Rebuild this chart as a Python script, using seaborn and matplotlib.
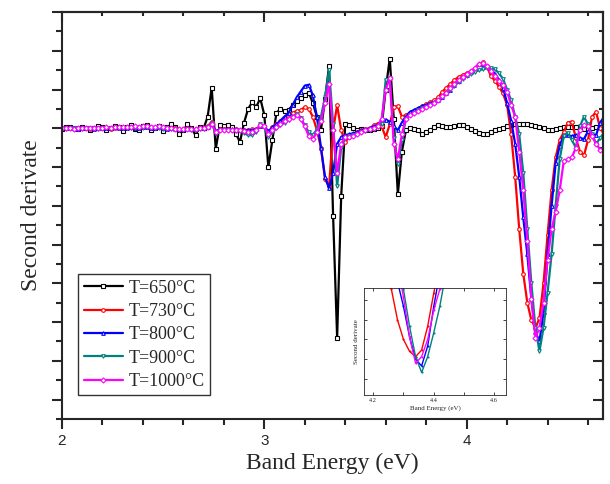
import numpy as np
import pandas as pd
import matplotlib
matplotlib.use("Agg")
import matplotlib.pyplot as plt
from matplotlib.ticker import MultipleLocator, NullFormatter
import seaborn as sns

sns.set_style("white")
plt.rcParams["font.family"] = ["Liberation Serif", "DejaVu Serif"]

# energy grid (eV), 0.02 eV steps
energy = np.round(np.linspace(2.0, 4.68, 135), 2)

t650 = [-0.05, 0.05, 0.08, 0.0, -0.05, 0.05, 0.02, -0.08, 0.0, 0.1,
        0.05, -0.1, 0.0, 0.12, 0.05, -0.12, 0.05, 0.15, -0.05, -0.1,
        0.1, 0.15, -0.1, 0.0, 0.12, -0.15, 0.05, 0.2, 0.05, -0.3,
        -0.1, 0.2, 0.0, -0.35, 0.05, 0.0, 0.6, 2.1, -1.05, 0.15,
        0.1, 0.15, 0.05, -0.3, -0.7, 0.3, 1.0, 1.35, 1.1, 1.55,
        0.7, -2.0, -0.6, 0.8, 1.0, 0.9, 0.95, 1.2, 1.4, 1.55,
        1.7, 1.85, 1.3, 0.6, -0.1, 1.5, 3.2, -4.5, -10.8, -3.5,
        0.2, 0.15, 0.0, -0.1, -0.05, -0.1, -0.1, -0.05, 0.0, 0.1,
        2.0, 3.6, 0.5, -3.4, -1.2, -0.1, 0.0, -0.05, -0.1, -0.3,
        -0.2, -0.1, 0.05, 0.15, 0.1, 0.05, 0.05, 0.1, 0.15, 0.15,
        0.05, -0.05, -0.15, -0.25, -0.3, -0.3, -0.2, -0.1, -0.05, 0.0,
        0.1, 0.15, 0.2, 0.25, 0.25, 0.2, 0.15, 0.1, 0.05, 0.0,
        -0.1, -0.1, -0.05, 0.0, 0.05, 0.05, 0.05, 0.05, 0.0, -0.05,
        -0.05, 0.0, 0.05, 0.05, 0.05]

t730 = [0.0, 0.02, 0.0, -0.03, 0.0, 0.03, 0.0, -0.02, 0.0, 0.03,
        0.02, 0.0, -0.03, 0.03, 0.05, 0.02, 0.0, 0.05, 0.02, 0.0,
        0.05, 0.08, 0.05, 0.02, 0.05, 0.0, -0.05, 0.0, 0.0, -0.05,
        -0.05, 0.0, -0.05, -0.05, 0.0, 0.0, 0.1, 0.35, -0.2, -0.05,
        -0.05, -0.05, -0.1, -0.05, -0.1, -0.1, -0.1, -0.05, -0.05, 0.15,
        0.1, -0.2, 0.05, 0.2, 0.4, 0.6, 0.75, 0.8, 0.9, 0.95,
        1.1, 1.0, 0.6, -0.1, -1.0, -2.6, -3.0, -0.1, 1.2, -0.1,
        -0.7, -0.45, -0.3, -0.2, -0.1, -0.05, 0.0, 0.15, 0.25, 0.1,
        -0.45, 0.2, 1.1, 1.15, 0.6, 0.7, 0.8, 0.9, 1.0, 1.15,
        1.25, 1.35, 1.45, 1.6, 1.9, 2.1, 2.3, 2.5, 2.65, 2.75,
        2.85, 2.95, 3.05, 3.3, 3.4, 3.2, 2.7, 2.45, 2.15, 1.8,
        1.2, -0.3, -2.5, -5.2, -7.5, -9.0, -9.9, -10.3, -9.8, -8.0,
        -5.5, -3.2, -1.5, -0.6, -0.2, 0.3, 0.35, -0.5, -1.2, -1.4,
        -0.6, 0.6, 0.85, 0.0, -0.3]

t800 = [0.0, 0.0, 0.02, 0.0, -0.02, 0.0, 0.03, 0.0, -0.02, 0.02,
        0.03, 0.0, 0.02, 0.05, 0.03, 0.0, 0.03, 0.05, 0.03, 0.02,
        0.05, 0.05, 0.03, 0.03, 0.05, 0.0, -0.03, 0.0, -0.02, -0.05,
        -0.05, 0.0, -0.05, -0.05, 0.0, 0.0, 0.05, 0.25, -0.15, -0.05,
        -0.05, -0.05, -0.05, -0.05, -0.1, -0.1, -0.1, -0.1, -0.05, 0.1,
        0.1, -0.15, 0.05, 0.2, 0.4, 0.6, 0.8, 1.2, 1.6, 1.9,
        2.2, 2.25, 1.7, 0.6, -1.0, -2.5, -3.1, -2.3, -0.8, -0.45,
        -0.35, -0.3, -0.25, -0.2, -0.1, -0.05, 0.0, 0.1, 0.15, 0.45,
        0.45, 0.35, 0.1, -0.1, 0.3, 0.6, 0.85, 0.95, 1.05, 1.15,
        1.2, 1.3, 1.35, 1.45, 1.6, 1.8, 2.0, 2.25, 2.45, 2.65,
        2.75, 2.9, 3.1, 3.3, 3.3, 3.2, 3.05, 2.8, 2.5, 2.1,
        1.3, 0.4, -0.8, -2.5, -4.6, -6.5, -8.8, -10.5, -11.0, -9.5,
        -6.5, -4.0, -1.8, -0.9, -0.35, -0.35, -0.4, -0.35, -0.5, -0.55,
        -0.15, -0.3, -0.35, 0.3, 0.6]

t900 = [0.0, -0.02, 0.0, 0.02, 0.0, -0.03, 0.0, 0.02, 0.0, -0.02,
        0.0, 0.02, 0.0, 0.03, 0.02, 0.0, 0.02, 0.04, 0.02, 0.0,
        0.03, 0.05, 0.03, 0.0, 0.02, -0.02, -0.05, -0.03, -0.05, -0.08,
        -0.08, -0.05, -0.1, -0.1, -0.05, -0.05, 0.05, 0.3, -0.3, -0.1,
        -0.1, -0.1, -0.1, -0.15, -0.15, -0.25, -0.35, -0.35, -0.2, 0.2,
        0.05, -0.45, -0.2, 0.0, 0.15, 0.3, 0.45, 0.6, 0.75, 0.55,
        0.15, -0.2, -0.35, -0.05, 0.6, 1.6, 3.0, 0.25, -3.0, -1.0,
        -0.5, -0.4, -0.35, -0.3, -0.2, -0.15, -0.1, -0.05, 0.1, 0.25,
        2.5, 2.6, -0.5, -1.85, -0.6, 0.5, 0.7, 0.8, 0.95, 1.05,
        1.1, 1.2, 1.3, 1.45, 1.6, 1.8, 2.0, 2.2, 2.4, 2.55,
        2.7, 2.8, 2.9, 3.0, 3.05, 3.1, 3.1, 3.05, 2.85, 2.55,
        2.0, 1.45, 0.6, -0.3, -2.3, -5.2, -8.0, -10.3, -11.5, -10.3,
        -8.5, -6.5, -4.0, -1.6, -0.4, -0.25, -0.6, -1.0, 0.1, 0.6,
        0.2, -0.3, -0.8, -0.5, -0.2]

t1000 = [0.0, 0.02, 0.0, -0.02, 0.0, 0.02, 0.03, 0.0, 0.02, 0.03,
         0.03, 0.05, 0.03, 0.05, 0.08, 0.05, 0.05, 0.08, 0.1, 0.08,
         0.1, 0.1, 0.08, 0.08, 0.1, 0.05, 0.0, 0.0, -0.02, -0.05,
         -0.05, -0.02, -0.05, -0.05, 0.0, 0.0, 0.05, 0.25, -0.2, -0.1,
         -0.1, -0.1, -0.1, -0.1, -0.1, -0.15, -0.2, -0.2, -0.1, 0.15,
         0.1, -0.3, -0.1, 0.05, 0.2, 0.4, 0.5, 0.6, 0.7, 0.5,
         0.1, -0.4, -0.55, -0.2, 0.4, 1.3, 2.3, -0.1, -2.3, -0.8,
         -0.45, -0.45, -0.4, -0.3, -0.2, -0.1, -0.05, 0.0, 0.1, 0.5,
         2.0, 2.6, -0.8, -1.6, -0.3, 0.5, 0.7, 0.8, 0.9, 1.0,
         1.1, 1.2, 1.3, 1.45, 1.65, 1.85, 2.1, 2.3, 2.5, 2.65,
         2.8, 2.95, 3.1, 3.3, 3.35, 3.2, 2.95, 2.7, 2.45, 2.25,
         1.9, 1.2, 0.6, -1.2, -3.2, -5.8, -8.8, -10.8, -10.3, -9.0,
         -6.8, -5.2, -4.3, -3.2, -1.7, -1.6, -1.5, -1.0, -0.1, 0.15,
         0.1, -0.4, -0.8, -1.1, -1.0]

labels = ["T=650°C", "T=730°C", "T=800°C", "T=900°C", "T=1000°C"]
series = [t650, t730, t800, t900, t1000]
colors = ["black", "#ff0000", "#0000ff", "#008080", "#ff00ff"]
markers = ["s", "o", "^", "v", "D"]

fig = plt.figure(figsize=(6.1, 4.84), dpi=100)
ax = fig.add_axes([0.1016, 0.1343, 0.8869, 0.8407])

for lab, vals, col, mk in zip(labels, series, colors, markers):
    df = pd.DataFrame({"energy": energy, "d2": vals})
    sns.lineplot(data=df, x="energy", y="d2", ax=ax, color=col, lw=1.6,
                 marker=mk, markersize=2.6, markerfacecolor="white",
                 markeredgecolor=col, markeredgewidth=0.8, label=lab)

ax.set_xlim(2.0, 4.674)
ax.set_ylim(-15, 6)
ax.xaxis.set_major_locator(MultipleLocator(1))
ax.xaxis.set_minor_locator(MultipleLocator(0.2))
ax.yaxis.set_major_locator(MultipleLocator(2))
ax.yaxis.set_minor_locator(MultipleLocator(1))
ax.yaxis.set_major_formatter(NullFormatter())
ax.tick_params(which="both", direction="out", width=1.5, bottom=True, left=True)
ax.tick_params(which="major", length=7)
ax.tick_params(which="minor", length=4)
for lbl in ax.get_xticklabels():
    lbl.set_family(["Liberation Sans", "DejaVu Sans"])
    lbl.set_fontsize(11)
for sp in ax.spines.values():
    sp.set_linewidth(1.5)

# mirrored ticks on top and right, pointing inward
top = ax.secondary_xaxis("top")
top.xaxis.set_major_locator(MultipleLocator(1))
top.xaxis.set_minor_locator(MultipleLocator(0.2))
top.xaxis.set_major_formatter(NullFormatter())
top.tick_params(which="both", direction="in", width=1.5, top=True)
top.tick_params(which="major", length=7)
top.tick_params(which="minor", length=3)
right = ax.secondary_yaxis("right")
right.yaxis.set_major_locator(MultipleLocator(2))
right.yaxis.set_minor_locator(MultipleLocator(1))
right.yaxis.set_major_formatter(NullFormatter())
right.tick_params(which="both", direction="in", width=1.5, right=True)
right.tick_params(which="major", length=7)
right.tick_params(which="minor", length=3)
top.spines["top"].set_linewidth(1.5)
right.spines["right"].set_linewidth(1.5)

ax.set_xlabel("Band Energy (eV)", fontsize=17, labelpad=4)
ax.set_ylabel("Second derivate", fontsize=17, labelpad=4)

leg = ax.legend(loc="lower left", bbox_to_anchor=(0.03, 0.058), fontsize=13,
                frameon=True, fancybox=False, edgecolor="black",
                handlelength=2.2, handletextpad=0.3, labelspacing=0.35,
                borderpad=0.3, borderaxespad=0)
leg.get_frame().set_linewidth(1.0)

# inset: zoom on the deep minimum
ins = fig.add_axes([0.597, 0.184, 0.233, 0.221])
for vals, col in zip(series[1:], colors[1:]):
    df = pd.DataFrame({"energy": energy, "d2": vals})
    sns.lineplot(data=df, x="energy", y="d2", ax=ins, color=col, lw=1.0,
                 marker="o", markersize=1.5, markeredgewidth=0, legend=False)
ins.set_xlim(4.17, 4.64)
ins.set_ylim(-13.2, -5.1)
ins.xaxis.set_major_locator(MultipleLocator(0.2))
ins.xaxis.set_minor_locator(MultipleLocator(0.1))
ins.yaxis.set_major_locator(MultipleLocator(3))
ins.yaxis.set_minor_locator(MultipleLocator(1.5))
ins.yaxis.set_major_formatter(NullFormatter())
ins.tick_params(which="both", direction="in", length=2, width=0.6,
                labelsize=4.5, bottom=True, left=True, top=True, right=True,
                pad=2)
for sp in ins.spines.values():
    sp.set_linewidth(0.6)
ins.set_xlabel("Band Energy (eV)", fontsize=5, labelpad=2)
ins.set_ylabel("Second derivate", fontsize=5, labelpad=2)

fig.savefig("out.png", dpi=100)
